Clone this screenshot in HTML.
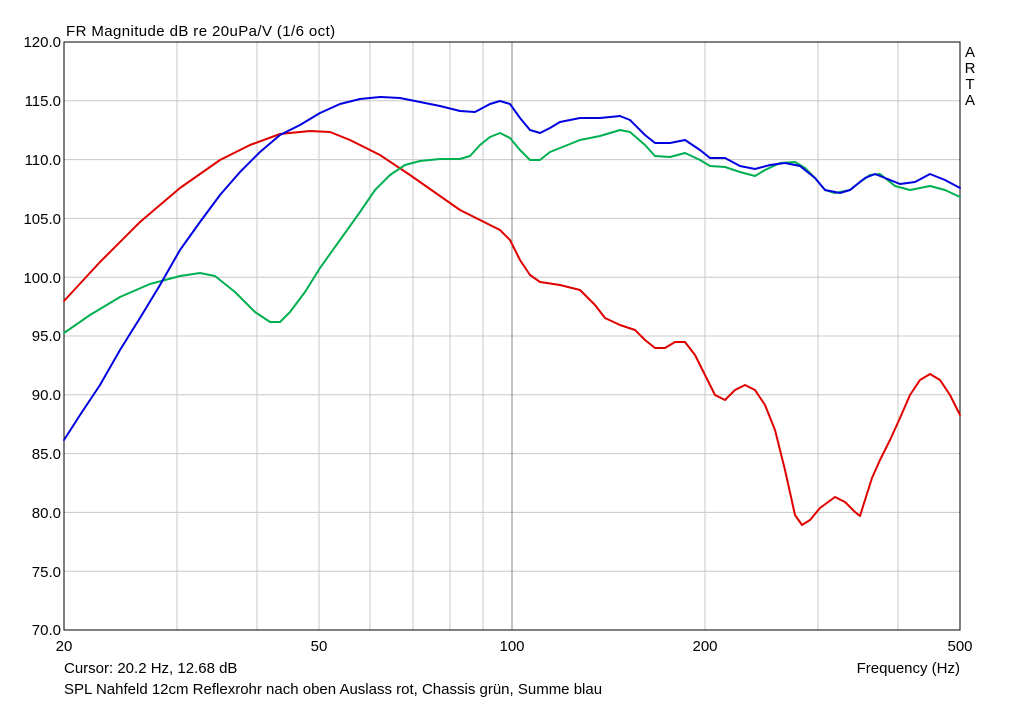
<!DOCTYPE html>
<html><head><meta charset="utf-8"><style>
body{margin:0;background:#fff;}
svg text{font-family:"Liberation Sans",sans-serif;font-size:15px;fill:#000;}
</style></head><body>
<svg width="1024" height="701" xmlns="http://www.w3.org/2000/svg">
<rect width="1024" height="701" fill="#fff"/>
<g stroke="#c8c8c8" stroke-width="1">
<line x1="64" y1="100.8" x2="960" y2="100.8"/><line x1="64" y1="159.6" x2="960" y2="159.6"/>
<line x1="64" y1="218.4" x2="960" y2="218.4"/><line x1="64" y1="277.2" x2="960" y2="277.2"/>
<line x1="64" y1="336" x2="960" y2="336"/><line x1="64" y1="394.8" x2="960" y2="394.8"/>
<line x1="64" y1="453.6" x2="960" y2="453.6"/><line x1="64" y1="512.4" x2="960" y2="512.4"/>
<line x1="64" y1="571.2" x2="960" y2="571.2"/>
<line x1="177" y1="42" x2="177" y2="630"/><line x1="257" y1="42" x2="257" y2="630"/>
<line x1="319" y1="42" x2="319" y2="630"/><line x1="370" y1="42" x2="370" y2="630"/>
<line x1="413" y1="42" x2="413" y2="630"/><line x1="450" y1="42" x2="450" y2="630"/>
<line x1="483" y1="42" x2="483" y2="630"/><line x1="705" y1="42" x2="705" y2="630"/>
<line x1="818" y1="42" x2="818" y2="630"/><line x1="898" y1="42" x2="898" y2="630"/>
</g>
<line x1="512" y1="42" x2="512" y2="630" stroke="#888"/>
<rect x="64" y="42" width="896" height="588" fill="none" stroke="#000"/>
<g text-anchor="end">
<text x="61" y="47">120.0</text><text x="61" y="106">115.0</text><text x="61" y="165">110.0</text>
<text x="61" y="224">105.0</text><text x="61" y="283">100.0</text><text x="61" y="341">95.0</text>
<text x="61" y="400">90.0</text><text x="61" y="459">85.0</text><text x="61" y="518">80.0</text>
<text x="61" y="577">75.0</text><text x="61" y="635">70.0</text>
</g>
<g text-anchor="middle">
<text x="64" y="651">20</text><text x="319" y="651">50</text><text x="512" y="651">100</text>
<text x="705" y="651">200</text><text x="960" y="651">500</text>
<text x="970" y="57">A</text><text x="970" y="73">R</text><text x="970" y="89">T</text><text x="970" y="105">A</text>
</g>
<text x="66" y="36" style="letter-spacing:0.4px">FR Magnitude dB re 20uPa/V (1/6 oct)</text>
<text x="64" y="673">Cursor: 20.2 Hz, 12.68 dB</text>
<text x="960" y="673" text-anchor="end">Frequency (Hz)</text>
<text x="64" y="694">SPL Nahfeld 12cm Reflexrohr nach oben Auslass rot, Chassis grün, Summe blau</text>
<g fill="none" stroke-width="2" stroke-linejoin="round" stroke-linecap="round">
<polyline stroke="#e00000" points="64,301 100,262 140,222 180,188 220,160 250,145 280,134 310,131 330,132 350,140 380,155 410,175 440,196 460,210 480,220 500,230 510,240 520,260 530,275 540,282 560,285 580,290 595,305 605,318 620,325 635,330 645,340 655,348 665,348 675,342 685,342 695,355 705,375 715,395 725,400 735,390 745,385 755,390 765,405 775,430 785,470 795,515 802,525 810,520 820,508 835,497 845,502 855,512 860,516 865,500 872,478 880,460 890,440 900,418 910,395 920,380 930,374 940,380 950,395 960,415"/>
<polyline stroke="#00b050" points="64,333 90,315 120,297 150,284 180,276 200,273 215,276 235,292 255,312 270,322 280,322 290,312 305,292 320,268 340,240 360,212 375,190 390,175 405,165 420,161 440,159 460,159 470,156 480,145 490,137 500,133 510,138 520,150 530,160 540,160 550,152 565,146 580,140 600,136 620,130 630,132 645,145 655,156 670,157 685,153 700,160 710,166 725,167 740,172 755,176 765,170 780,163 795,162 805,168 815,178 825,190 835,193 850,190 860,182 870,175 880,174 895,186 910,190 930,186 945,190 960,197"/>
<polyline stroke="#0000e0" points="64,440 80,415 100,385 120,350 140,318 160,285 180,250 200,222 220,195 240,172 260,152 280,135 300,125 320,113 340,104 360,99 380,97 400,98 420,102 440,106 460,111 475,112 490,104 500,101 510,104 520,118 530,130 540,133 550,128 560,122 580,118 600,118 620,116 630,120 645,135 655,143 670,143 685,140 700,150 710,158 725,158 740,166 755,169 770,165 785,163 800,166 815,178 825,190 840,193 850,190 865,178 875,174 885,178 900,184 915,182 930,174 945,180 960,188"/>
</g>
</svg>
</body></html>
